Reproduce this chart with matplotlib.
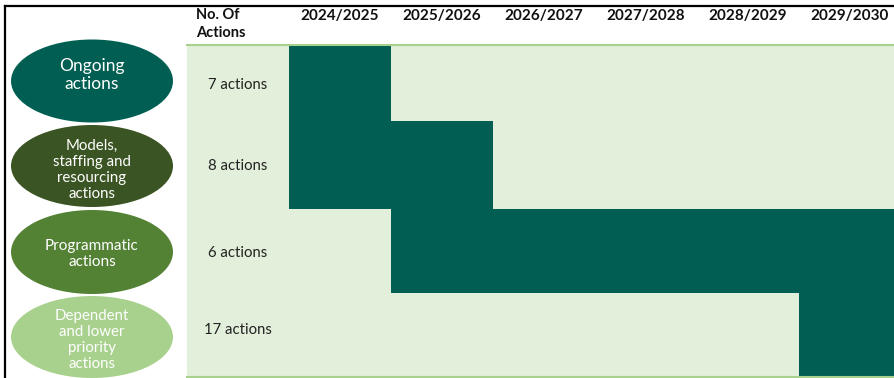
import matplotlib.pyplot as plt
from matplotlib.patches import Ellipse, Rectangle

plt.rcParams['font.family'] = ['Lato', 'DejaVu Sans']

# action groups, counts and the financial years each group is active in
groups = ["Ongoing\nactions",
          "Models,\nstaffing and\nresourcing\nactions",
          "Programmatic\nactions",
          "Dependent\nand lower\npriority\nactions"]
action_counts = [7, 8, 6, 17]
years = ["2024/2025", "2025/2026", "2026/2027", "2027/2028", "2028/2029", "2029/2030"]
first_year = ["2024/2025", "2024/2025", "2025/2026", "2029/2030"]
last_year = ["2024/2025", "2025/2026", "2029/2030", "2029/2030"]

group_colors = ["#005F52", "#3B5423", "#548235", "#A9D18E"]
group_sizes = [12.5, 10.8, 11, 10.8]
dark = "#005F52"
light = "#E2EFDA"

# layout in pixels
W, H = 894, 378
row_edges = [45, 121, 209, 293, 377]
ellipse_y = [81, 166, 252, 337]
ellipse_h = [83, 82, 84, 82]
label_y = [75, 170, 254, 340]
count_y = [85, 166, 253, 330]
count_x0 = 187
col_x0 = 289
col_w = 102

fig = plt.figure(figsize=(W / 100, H / 100), dpi=100)
ax = fig.add_axes([0, 0, 1, 1])
ax.set_xlim(0, W)
ax.set_ylim(H, 0)
ax.axis("off")

# outer frame (top and left)
ax.plot([5, W], [6, 6], color="black", lw=1.6)
ax.plot([5, 5], [6, H], color="black", lw=1.6)

# light background of the table
top, bottom = row_edges[0], row_edges[-1]
ax.add_patch(Rectangle((count_x0, top), W - count_x0, bottom - top,
                       facecolor=light, edgecolor="none"))
ax.plot([count_x0, W], [top, top], color="#A9D18E", lw=1.5)
ax.plot([count_x0, W], [bottom, bottom], color="#A9D18E", lw=1.5)

# header
ax.text(196, 24, "No. Of\nActions", fontsize=10.5, fontweight="bold",
        ha="left", va="center", linespacing=1.3, color="#111111")
for i, y in enumerate(years):
    ax.text(col_x0 + col_w * (i + 0.5), 16, y, fontsize=11, fontweight="bold",
            ha="center", va="center", color="#111111")

for r, name in enumerate(groups):
    y0, y1 = row_edges[r], row_edges[r + 1]
    # active years
    a = years.index(first_year[r])
    b = years.index(last_year[r])
    ax.add_patch(Rectangle((col_x0 + col_w * a, y0), col_w * (b - a + 1), y1 - y0,
                           facecolor=dark, edgecolor="none"))
    # action count
    ax.text((count_x0 + col_x0) / 2, count_y[r], f"{action_counts[r]} actions",
            fontsize=10.7, ha="center", va="center", color="#222222")
    # group label
    ax.add_patch(Ellipse((92, ellipse_y[r]), 162, ellipse_h[r],
                         facecolor=group_colors[r], edgecolor="none"))
    ax.text(92, label_y[r], name, fontsize=group_sizes[r], color="white",
            ha="center", va="center", linespacing=1.2)

fig.savefig("out.png", dpi=100)
